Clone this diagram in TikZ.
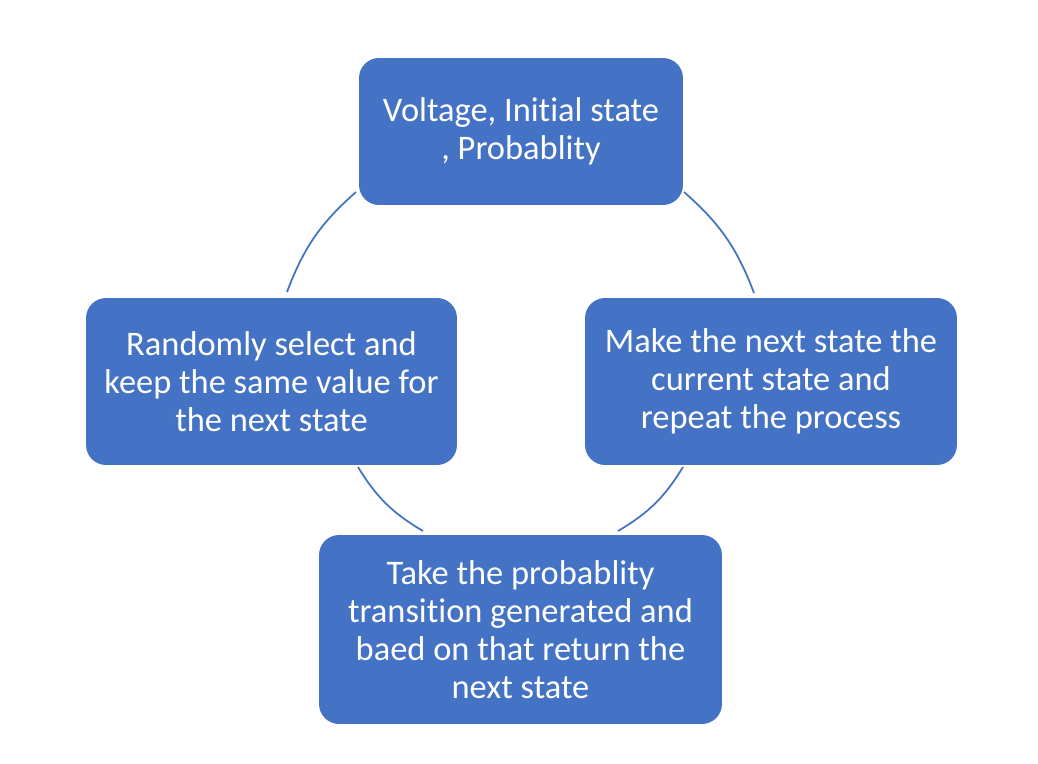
\documentclass[tikz,border=0pt]{standalone}
\usepackage{fontspec}
\setmainfont{Carlito}[Ligatures=NoCommon]
\definecolor{boxblue}{HTML}{4472C4}
\tikzset{
  stepbox/.style={draw=none, fill=boxblue, rounded corners=0.4cm, text=white,
    align=center, inner sep=0pt, font=\fontsize{19.6}{21.6}\selectfont},
  link/.style={draw=boxblue, line width=1pt, bend right=14}
}
\begin{document}
\begin{tikzpicture}[x=0.02cm,y=-0.02cm]
  \useasboundingbox (0,0) rectangle (1038,764);
  \node[stepbox, minimum width=6.48cm, minimum height=2.94cm] (input) at (521,131.5)
    {Voltage, Initial state\\, Probablity};
  \node[stepbox, minimum width=7.42cm, minimum height=3.34cm] (select) at (271.5,381.5)
    {Randomly select and\\keep the same value for\\the next state};
  \node[stepbox, minimum width=8.06cm, minimum height=3.78cm] (transition) at (520.5,629.5)
    {Take the probablity\\transition generated and\\baed on that return the\\next state};
  \node[stepbox, minimum width=7.44cm, minimum height=3.34cm] (repeat) at (771,381.5)
    {Make the next state the\\current state and\\repeat the process};
  % arc ends
  \coordinate (input-l) at (356,192);
  \coordinate (select-t) at (287,292);
  \coordinate (select-b) at (358,467);
  \coordinate (transition-l) at (423,531);
  \coordinate (transition-r) at (618,531);
  \coordinate (repeat-b) at (683,467);
  \coordinate (repeat-t) at (754,293);
  \coordinate (input-r) at (684,192);
  \begin{scope}[link]
    \draw (input-l) to (select-t);
    \draw (select-b) to (transition-l);
    \draw (transition-r) to (repeat-b);
    \draw (repeat-t) to (input-r);
  \end{scope}
\end{tikzpicture}
\end{document}
